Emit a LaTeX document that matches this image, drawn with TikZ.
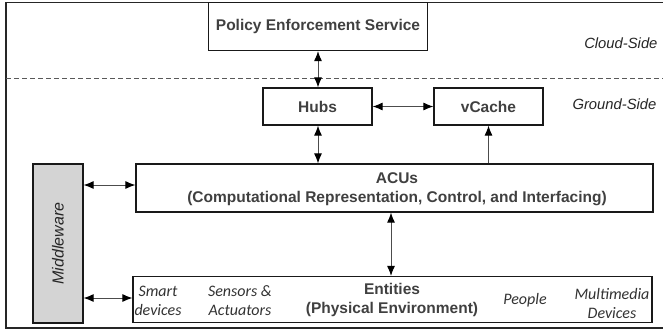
\documentclass[tikz,border=0pt]{standalone}
\usepackage{fontspec}
\setmainfont{Liberation Sans}
\newfontfamily\calib{Carlito}
\usetikzlibrary{arrows.meta}
\begin{document}
\begin{tikzpicture}[x=1pt,y=-1pt,
  box/.style={draw=black!90,line width=1.2pt,fill=white,inner sep=0pt},
  lbl/.style={font=\fontsize{15.5}{19}\selectfont\bfseries,align=center,text=black!75},
  ilbl/.style={font=\calib\itshape\fontsize{16}{19}\selectfont,align=center,text=black!80},
  side/.style={font=\fontsize{14.8}{17}\selectfont\itshape,text=black!85},
  conn/.style={draw=black!70,line width=1pt,{Latex[length=10pt,width=8pt,black]}-{Latex[length=10pt,width=8pt,black]}},
  oneway/.style={draw=black!70,line width=1pt,-{Latex[length=10pt,width=8pt,black]}}
]
\useasboundingbox (0,0) rectangle (663,333);
% outer frame
\draw[line width=1.2pt,black!85] (663,2.5) -- (6,2.5) -- (6,328) -- (663,328);
\draw[line width=1pt,black!65,dash pattern=on 5pt off 3pt] (6,78) -- (663,78);
% boxes
\node[box,minimum width=219pt,minimum height=48pt] (pes) at (318,26.5) {};
\node[lbl] at (pes) {Policy Enforcement Service};
\node[box,minimum width=109pt,minimum height=37pt] (hubs) at (317.5,106.5) {};
\node[lbl] at (hubs) {Hubs};
\node[box,minimum width=109pt,minimum height=37pt] (vc) at (488.5,106.5) {};
\node[lbl] at (vc) {vCache};
\node[box,minimum width=517pt,minimum height=48pt] (acu) at (394.5,188) {};
\node[lbl] at (397,189) {ACUs\\(Computational Representation, Control, and Interfacing)};
\node[box,fill=black!17,minimum width=50pt,minimum height=159pt] (mw) at (58,243.5) {};
\node[font=\fontsize{16}{18}\selectfont\itshape,text=black!85,rotate=90] at (mw) {Middleware};
\node[box,minimum width=519pt,minimum height=46pt] (ent) at (392.5,299.5) {};
\node[lbl] at (392,300) {Entities\\(Physical Environment)};
\node[ilbl] at (158,301) {Smart\\devices};
\node[ilbl] at (240,301) {Sensors \&\\Actuators};
\node[ilbl] at (525,300) {People};
\node[ilbl] at (612,303) {Multimedia\\Devices};
% side labels
\node[side,anchor=east] at (661,43) {Cloud-Side};
\node[side,anchor=west] at (569,104) {Ground-Side};
% connectors
\draw[conn] (pes.south -| 318,0) -- (hubs.north -| 318,0);
\draw[conn] (hubs.east) -- (vc.west);
\draw[conn] (hubs.south -| 318,0) -- (acu.north -| 318,0);
\draw[oneway] (acu.north -| vc.south) -- (vc.south);
\draw[conn] (mw.east |- 0,185) -- (acu.west |- 0,185);
\draw[conn] (acu.south -| 391,0) -- (ent.north -| 391,0);
\draw[conn] (mw.east |- 0,298) -- (ent.west |- 0,298);
\end{tikzpicture}
\end{document}
